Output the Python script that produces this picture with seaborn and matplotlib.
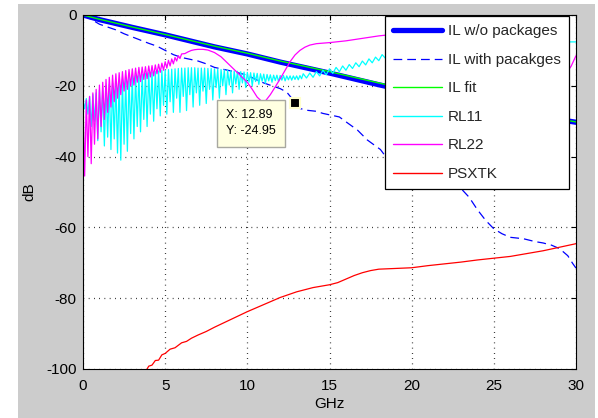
import numpy as np
import pandas as pd
import matplotlib
matplotlib.use("Agg")
import matplotlib.pyplot as plt
from matplotlib.patches import Rectangle
from matplotlib.lines import Line2D
import seaborn as sns

# ---------------- data (frequency in GHz, level in dB) ----------------
# insertion loss without packages
il_freq = [0, 1, 3, 5, 8, 10, 12, 15, 18, 21, 24, 27, 30]
il_db = [0.0, -1.3, -3.5, -5.6, -9.0, -11.0, -13.3, -16.4, -19.7, -22.8, -25.6, -28.1, -30.3]

# fitted insertion loss
fit_freq = [0, 1, 3, 5, 8, 10, 12, 15, 18, 21, 24, 27, 30]
fit_db = [0.0, -1.2, -3.4, -5.5, -8.8, -10.8, -13.0, -16.0, -19.2, -22.3, -25.2, -27.8, -30.2]

# insertion loss with packages
ilp_freq = [0, 0.5, 1, 1.5, 2, 2.5, 3, 3.5, 4, 4.5, 5, 5.5, 6, 6.5, 7, 7.5, 8, 8.5, 9, 9.5,
            10, 10.5, 11, 11.5, 12, 12.4, 12.7, 12.89, 13.2, 13.6, 14.2, 14.6, 15.2, 15.6,
            16.1, 16.7, 17.3, 18.1, 18.5, 19.5, 21, 22, 23, 23.5, 24, 24.5, 25, 25.5, 26,
            26.8, 27.5, 28, 28.5, 29, 29.5, 29.8, 30]
ilp_db = [0.0, -1.2, -2.6, -3.4, -4.2, -5.3, -6.2, -7.1, -8.0, -8.8, -10.0, -11.2, -12.0,
          -12.5, -13.0, -13.8, -14.8, -15.3, -15.8, -16.4, -17.0, -18.2, -19.2, -20.0,
          -20.8, -21.8, -23.5, -24.95, -26.4, -26.9, -27.2, -27.8, -28.4, -28.8, -30.5,
          -32.5, -35.3, -38.0, -40.5, -43.0, -45.0, -46.5, -49.0, -51.5, -55.0, -58.0,
          -60.4, -61.8, -62.8, -63.2, -64.0, -64.4, -65.0, -66.0, -68.0, -70.2, -71.5]

# RL11: ripple maxima (0.0, 0.2, ... GHz) and minima (0.1, 0.3, ... GHz)
rl11_peak_freq = np.round(np.arange(0.0, 13.21, 0.2), 2)
rl11_peak_db = [-24.0, -23.6, -23.0, -22.5, -22.0, -21.2, -20.6, -20.0, -19.6, -19.2,
                -18.8, -18.5, -18.2, -17.9, -17.6, -17.3, -17.1, -16.9, -16.7, -16.5,
                -16.3, -16.1, -16.0, -15.8, -15.7, -15.6, -15.4, -15.3, -15.2, -15.1,
                -15.0, -15.0, -14.9, -14.9, -14.9, -15.0, -15.0, -15.0, -15.1, -15.1,
                -15.2, -15.3, -15.4, -15.5, -15.6, -15.7, -15.8, -15.9, -16.0, -16.1,
                -16.2, -16.3, -16.4, -16.5, -16.6, -16.7, -16.8, -16.9, -17.0, -17.0,
                -17.1, -17.1, -17.2, -17.2, -17.2, -17.2, -17.1]
rl11_null_freq = np.round(np.arange(0.1, 13.31, 0.2), 2)
rl11_null_db = [-26.5, -28.0, -31.5, -30.0, -35.5, -33.0, -37.0, -34.5, -38.0, -35.0,
                -39.0, -41.0, -36.5, -38.5, -33.5, -35.0, -31.5, -33.0, -29.5, -31.5,
                -28.0, -30.0, -26.5, -28.5, -25.5, -28.0, -24.5, -27.5, -23.5, -27.5,
                -23.0, -27.0, -22.5, -26.0, -22.0, -25.5, -21.5, -25.0, -21.0, -24.0,
                -20.5, -23.5, -20.0, -22.5, -19.8, -22.0, -19.5, -21.0, -19.2, -20.5,
                -19.0, -20.0, -18.8, -19.6, -18.7, -19.3, -18.6, -19.0, -18.5, -18.8,
                -18.4, -18.6, -18.3, -18.4, -18.2, -18.3, -18.0]
rl11_tail_freq = [13.4, 13.6, 13.8, 14.0, 14.2, 14.4, 14.6, 14.8, 15.0, 15.2, 15.4, 15.6,
                  15.8, 16.0, 16.2, 16.4, 16.6, 16.8, 17.0, 17.2, 17.4, 17.6, 17.8, 18.0,
                  18.2, 18.4, 18.6, 19.0, 20, 22, 24, 26, 28, 29, 30]
rl11_tail_db = [-16.6, -17.8, -16.4, -17.6, -16.0, -17.2, -15.6, -16.9, -15.2, -16.5,
                -14.8, -16.0, -14.4, -15.6, -14.0, -15.1, -13.5, -14.6, -13.0, -14.1,
                -12.4, -13.5, -11.9, -12.9, -11.2, -12.2, -10.8, -10.5, -10.0, -9.2,
                -8.6, -8.1, -7.8, -7.6, -7.6]

# RL22: ripple maxima / minima below 6 GHz, then the smooth part
rl22_peak_freq = np.round(np.arange(0.0, 5.81, 0.2), 2)
rl22_peak_db = [-24.5, -24.0, -23.0, -22.0, -21.0, -19.8, -19.0, -18.2, -17.6, -17.0,
                -16.6, -16.3, -16.0, -15.7, -15.4, -15.2, -15.0, -14.8, -14.7, -14.6,
                -14.4, -14.3, -14.1, -13.9, -13.6, -13.2, -12.8, -12.4, -12.0, -11.5]
rl22_null_freq = np.round(np.arange(0.1, 5.91, 0.2), 2)
rl22_null_db = [-45.5, -40.0, -42.0, -36.5, -35.0, -31.5, -29.5, -27.5, -26.0, -24.5,
                -23.5, -22.5, -21.5, -21.0, -20.0, -19.8, -19.0, -18.8, -18.2, -18.0,
                -17.5, -17.2, -16.6, -16.2, -15.6, -15.0, -14.4, -13.8, -13.0, -12.3]
rl22_tail_freq = [6.0, 6.2, 6.4, 6.6, 6.8, 7.0, 7.3, 7.6, 8.0, 8.4, 8.8, 9.2, 9.6, 10.0,
                  10.3, 10.6, 10.9, 11.1, 11.4, 11.7, 12.0, 12.3, 12.6, 12.9, 13.2, 13.5,
                  13.8, 14.2, 15.0, 16.0, 17, 18, 19, 20, 22, 24, 26, 27, 28, 28.8, 29.2,
                  29.5, 29.7, 30]
rl22_tail_db = [-11.0, -10.9, -10.4, -10.0, -9.8, -9.7, -9.7, -9.9, -10.6, -11.8, -13.6,
                -15.4, -17.2, -19.0, -21.0, -23.2, -24.5, -24.3, -22.5, -20.3, -18.0,
                -15.6, -13.2, -11.3, -10.0, -9.1, -8.5, -8.1, -7.8, -7.3, -6.6, -5.9,
                -5.4, -5.2, -5.0, -5.0, -5.2, -5.6, -6.5, -8.5, -11.5, -15.8, -14.5, -11.5]

# power-sum crosstalk
ps_freq = [3.85, 4.0, 4.2, 4.4, 4.6, 4.8, 5.0, 5.3, 5.6, 6.0, 6.3, 6.6, 7.0, 7.5, 8.0, 9.0,
           10.0, 11.0, 12.0, 13.0, 14.0, 15.0, 15.5, 16.0, 16.5, 17.0, 17.5, 18.0, 19.0,
           20.0, 21.0, 22.0, 23.0, 24.0, 25.0, 26.0, 27.0, 28.0, 29.0, 30.0]
ps_db = [-100.4, -99.2, -98.9, -97.6, -97.5, -96.0, -95.6, -94.4, -94.0, -92.6, -92.2,
         -91.3, -90.4, -89.4, -88.2, -86.0, -83.8, -81.8, -79.8, -78.2, -77.0, -76.2,
         -75.6, -74.6, -73.6, -72.8, -72.2, -71.8, -71.6, -71.4, -70.8, -70.3, -69.8,
         -69.2, -68.7, -68.2, -67.4, -66.6, -65.6, -64.6]

# data cursor on the packaged insertion loss
tip_x, tip_y = 12.89, -24.95

x_ticks = [0, 5, 10, 15, 20, 25, 30]
y_ticks = [-100, -80, -60, -40, -20, 0]
labels = ["IL w/o packages", "IL with pacakges", "IL fit", "RL11", "RL22", "PSXTK"]


def frame(freq, db):
    return pd.DataFrame({"GHz": np.asarray(freq, dtype=float),
                         "dB": np.asarray(db, dtype=float)})


def ripple_frame(pk_f, pk_db, nl_f, nl_db, tail_f, tail_db):
    df = pd.concat([frame(pk_f, pk_db), frame(nl_f, nl_db)])
    df = df.sort_values("GHz")
    return pd.concat([df, frame(tail_f, tail_db)], ignore_index=True)


# ---------------- style ----------------
sns.set_theme(style="white")
plt.rcParams["font.family"] = ["Liberation Sans", "DejaVu Sans"]
plt.rcParams["axes.linewidth"] = 0.8

fig = plt.figure(figsize=(5.98, 4.18), dpi=100, facecolor="white")
fig.patches.append(Rectangle((18 / 598, 0), 577 / 598, 414 / 418,
                             transform=fig.transFigure, facecolor="#cccccc",
                             edgecolor="none", zorder=-10))
ax = fig.add_axes([83 / 598, 49 / 418, 493 / 598, 354 / 418])
ax.set_facecolor("white")

blue, green, cyan, magenta, red = "#0000ff", "#00ff00", "#00ffff", "#ff00ff", "#ff0000"
common = dict(ax=ax, x="GHz", y="dB", estimator=None, sort=False, legend=False)

sns.lineplot(data=frame(il_freq, il_db), color=blue, linewidth=3.8, **common)
sns.lineplot(data=frame(ilp_freq, ilp_db), color=blue, linewidth=0.9,
             linestyle=(0, (7, 4)), **common)
sns.lineplot(data=frame(fit_freq, fit_db), color=green, linewidth=1.0, **common)
sns.lineplot(data=ripple_frame(rl11_peak_freq, rl11_peak_db, rl11_null_freq,
                               rl11_null_db, rl11_tail_freq, rl11_tail_db),
             color=cyan, linewidth=0.9, **common)
sns.lineplot(data=ripple_frame(rl22_peak_freq, rl22_peak_db, rl22_null_freq,
                               rl22_null_db, rl22_tail_freq, rl22_tail_db),
             color=magenta, linewidth=0.9, **common)
sns.lineplot(data=frame(ps_freq, ps_db), color=red, linewidth=0.9, **common)

# axes, ticks and dotted grid
ax.set_xlim(0, 30)
ax.set_ylim(-100, 0)
ax.set_xticks(x_ticks)
ax.set_yticks(y_ticks)
ax.set_xticklabels([str(v) for v in x_ticks])
ax.set_yticklabels([str(v) for v in y_ticks])
ax.grid(True, color="black", linestyle=(0, (0.6, 3.6)), linewidth=0.9)
ax.set_axisbelow(True)
for s in ax.spines.values():
    s.set_color("black")
    s.set_linewidth(0.8)
    s.set_visible(True)
ax.tick_params(axis="both", direction="in", length=3.6, width=0.8, colors="black",
               top=True, right=True, labelsize=11)
ax.tick_params(axis="y", pad=4.5)
ax.tick_params(axis="x", pad=7.5)
ax.set_xlabel("GHz", fontsize=11, color="black", labelpad=2.5)
ax.set_ylabel("dB", fontsize=11, color="black", labelpad=7)

# legend
handles = [
    Line2D([], [], color=blue, linewidth=3.8),
    Line2D([], [], color=blue, linewidth=0.9, linestyle=(0, (7, 4))),
    Line2D([], [], color=green, linewidth=1.0),
    Line2D([], [], color=cyan, linewidth=1.0),
    Line2D([], [], color=magenta, linewidth=1.0),
    Line2D([], [], color=red, linewidth=1.0),
]
leg = ax.legend(handles, labels, loc="upper right", bbox_to_anchor=(486 / 493, 353 / 354),
                borderaxespad=0, fontsize=11, handlelength=3.2, handletextpad=0.35,
                labelspacing=0.95, borderpad=0.55, frameon=True, fancybox=False,
                shadow=False, framealpha=1)
leg.get_frame().set_edgecolor("black")
leg.get_frame().set_linewidth(0.9)
leg.set_zorder(20)

# data cursor
ax.plot([tip_x], [tip_y], marker="s", markersize=7, markerfacecolor="black",
        markeredgecolor="#ffffcc", markeredgewidth=1.5, linestyle="none", zorder=12,
        clip_on=False)
ax.annotate(f"X: {tip_x:.2f}\nY: {tip_y:.2f}", xy=(tip_x, tip_y), xytext=(-19, -6),
            textcoords="offset pixels", ha="right", va="top", multialignment="left",
            fontsize=9, color="black", linespacing=1.45, zorder=11,
            bbox=dict(boxstyle="square,pad=0.75", facecolor="#ffffe1",
                      edgecolor="#a8a8a0", linewidth=1))

fig.savefig("out.png", dpi=100, facecolor=fig.get_facecolor())
